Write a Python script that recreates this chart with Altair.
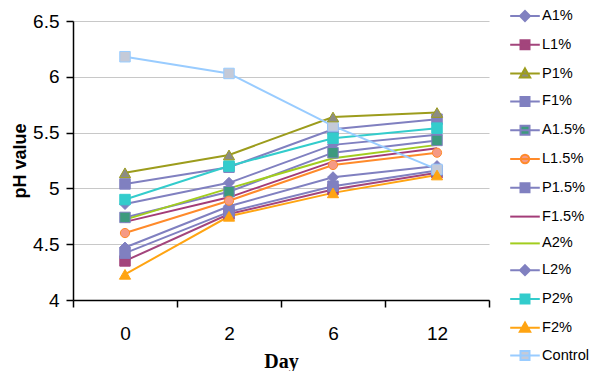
import altair as alt
import pandas as pd

days = ["0", "2", "6", "12"]
series_names = ["A1%", "L1%", "P1%", "F1%", "A1.5%", "L1.5%", "P1.5%",
                "F1.5%", "A2%", "L2%", "P2%", "F2%", "Control"]

a1 = [4.86, 5.05, 5.39, 5.48]
l1 = [4.35, 4.77, 4.99, 5.14]
p1 = [5.14, 5.30, 5.64, 5.68]
f1 = [5.04, 5.19, 5.53, 5.62]
a15 = [4.74, 4.97, 5.32, 5.43]
l15 = [4.60, 4.89, 5.21, 5.32]
p15 = [4.42, 4.79, 5.02, 5.16]
f15 = [4.70, 4.92, 5.24, 5.36]
a2 = [4.72, 5.00, 5.27, 5.39]
l2 = [4.47, 4.84, 5.10, 5.20]
p2 = [4.90, 5.20, 5.45, 5.54]
f2 = [4.23, 4.75, 4.96, 5.12]
control = [6.18, 6.03, 5.56, 5.17]

values = [a1, l1, p1, f1, a15, l15, p15, f15, a2, l2, p2, f2, control]

line_colors = ["#8080c0", "#a3457c", "#9c9c1c", "#8080c0", "#8080c0", "#ff8a2a",
               "#8080c0", "#a33c78", "#a2cd1e", "#8080c0", "#33cccc", "#ffa412", "#99ccff"]
marker_colors = ["#8080c0", "#a3457c", "#8c8c84", "#8080c0", "#3d9a7e", "#f59a85",
                 "#8080c0", "#a33c78", "#a2cd1e", "#8080c0", "#33cccc", "#ffa412", "#c4cad8"]
marker_shapes = ["diamond", "square", "triangle-up", "square", "square", "circle",
                 "square", "none", "none", "diamond", "square", "triangle-up", "square"]

rows = []
for name, vals in zip(series_names, values):
    for i, (d, v) in enumerate(zip(days, vals)):
        rows.append({"series": name, "day": d, "pos": i + 0.5, "ph": v})
df = pd.DataFrame(rows)

# legend glyphs: a line with the marker on it (unit = 10 px)
LINE = "M-1.48,0H1.48"
legend_paths = {
    "diamond": LINE + "M0,-0.5L0.5,0L0,0.5L-0.5,0Z",
    "square": LINE + "M-0.45,-0.45H0.45V0.45H-0.45Z",
    "triangle-up": LINE + "M0,-0.52L0.52,0.4H-0.52Z",
    "circle": LINE + "M-0.42,0A0.42,0.42 0 1 0 0.42,0A0.42,0.42 0 1 0 -0.42,0Z",
    "none": LINE,
}
legend_range = [legend_paths[s] for s in marker_shapes]

label_arr = "[" + ",".join("'" + d + "'" for d in days) + "]"

x_enc = alt.X(
    "pos:Q",
    scale=alt.Scale(domain=[0, len(days)], nice=False, zero=False),
    axis=alt.Axis(
        values=list(range(len(days) + 1)),
        labelExpr=f"datum.value < {len(days)} ? {label_arr}[datum.value] : ''",
        labelOffset=52, labelFlush=False, labelBaseline="alphabetic",
        labelPadding=32, tickSize=7, grid=False, title="Day",
        titleFont="Liberation Serif", titleFontSize=20, titleFontWeight="bold",
        titleColor="black", titleBaseline="alphabetic", titleY=67,
        labelFontSize=19, labelFont="Liberation Sans", labelColor="black",
        domainColor="black", tickColor="black", domainWidth=1.5, tickWidth=1.5,
    ),
)
y_enc = alt.Y(
    "ph:Q",
    scale=alt.Scale(domain=[4, 6.5], nice=False, zero=False),
    axis=alt.Axis(
        values=[4, 4.5, 5, 5.5, 6, 6.5], format="~g", grid=True,
        gridColor="#c8c8c8", gridWidth=1.2, tickSize=7, labelPadding=7,
        labelFontSize=19, labelFont="Liberation Sans", labelColor="black",
        domainColor="black", tickColor="black", domainWidth=1.5, tickWidth=1.5,
        title="pH value", titleFont="Liberation Sans", titleFontSize=18,
        titleFontWeight="bold", titleColor="black", titleX=-48, titleY=139.5,
        titleBaseline="alphabetic", titleAngle=-90, titleAlign="center",
    ),
)

legend = alt.Legend(
    title=None, orient="none", legendX=441, legendY=-16,
    symbolSize=400, symbolStrokeWidth=2, symbolOpacity=1,
    labelFontSize=14.6, labelFont="Liberation Sans", labelColor="black",
    rowPadding=8.8, labelOffset=6, padding=0, labelLimit=200,
)

stroke_scale = alt.Scale(domain=series_names, range=line_colors)
fill_scale = alt.Scale(domain=series_names, range=marker_colors)
shape_scale = alt.Scale(domain=series_names, range=legend_range)

base = alt.Chart(df)

lines = base.mark_line(strokeWidth=2, opacity=1).encode(
    x=x_enc, y=y_enc,
    stroke=alt.Stroke("series:N", scale=stroke_scale, legend=legend),
    order=alt.Order("pos:Q"),
)

point_layers = []
sizes = {"diamond": 120, "square": 110, "triangle-up": 125, "circle": 85}
for shp in ["diamond", "square", "triangle-up", "circle"]:
    members = [n for n, s in zip(series_names, marker_shapes) if s == shp]
    pl = base.mark_point(filled=True, shape=shp, size=sizes[shp], opacity=1,
                         strokeWidth=1).encode(
        x=x_enc, y=y_enc,
        fill=alt.Fill("series:N", scale=fill_scale, legend=legend),
        stroke=alt.Stroke("series:N", scale=stroke_scale, legend=legend),
    ).transform_filter(alt.FieldOneOfPredicate(field="series", oneOf=members))
    point_layers.append(pl)

legend_layer = base.mark_point(filled=True, size=400, opacity=1, strokeWidth=2).encode(
    x=x_enc, y=y_enc,
    shape=alt.Shape("series:N", scale=shape_scale, legend=legend),
    fill=alt.Fill("series:N", scale=fill_scale, legend=legend),
    stroke=alt.Stroke("series:N", scale=stroke_scale, legend=legend),
).transform_filter("datum.ph < 0")

chart = alt.layer(lines, *point_layers, legend_layer).properties(
    width=416, height=279,
    autosize=alt.AutoSizeParams(type="none"),
    padding={"left": 65, "top": 13, "right": 103, "bottom": 71},
    background="white",
).configure_view(stroke=None)

chart.save("out.html", embed_options={"renderer": "svg", "actions": False})
